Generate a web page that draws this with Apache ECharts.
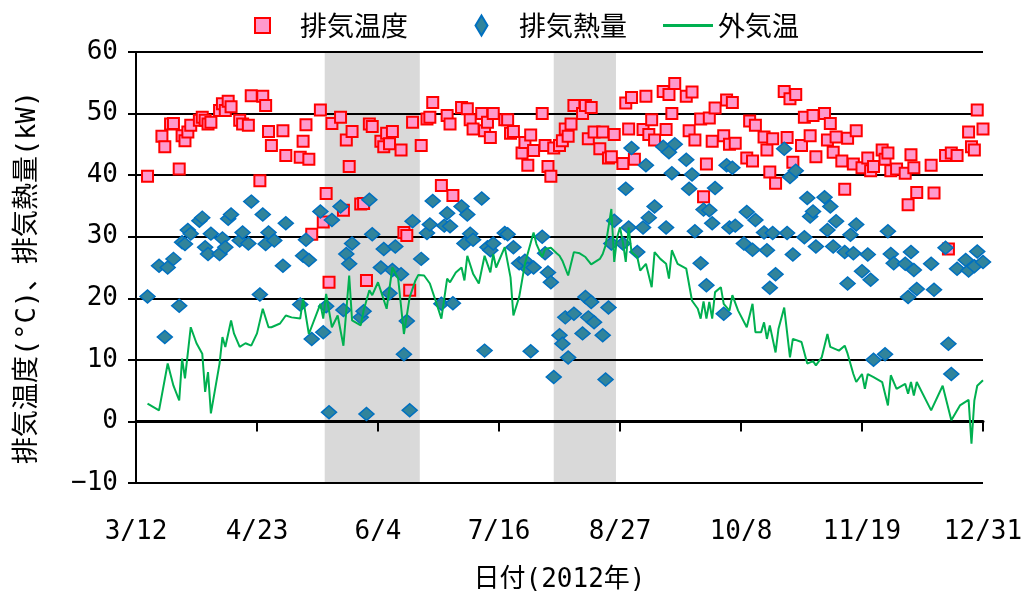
<!DOCTYPE html>
<html>
<head>
<meta charset="utf-8">
<script src="https://cdn.jsdelivr.net/npm/echarts/dist/echarts.min.js"></script>
<style>
  html, body { margin: 0; padding: 0; background: #fff; }
  #chart { width: 1021px; height: 591px; }
</style>
</head>
<body>
<div id="chart"></div>
<script>
// Days are counted from 2012-03-12 (day 0) to 2012-12-31 (day 294).
const START = { y: 2012, m: 2, d: 12 };

// Shaded periods [startDay, endDay]
const shadePeriods = [[65.5, 98.5], [145, 166.6]];

// 排気温度 (℃)
const exhaustTempDays = [4,9,10,12,13,15,16,17,18,19,22,23,24,25,26,29,30,31,32,33,36,37,39,40,43,44,45,46,47,51,52,57,58,59,60,61,64,65,66,67,68,71,72,73,74,75,78,79,80,81,82,85,86,87,88,89,92,93,94,95,96,99,101,102,103,106,108,109,110,113,115,116,117,120,121,122,123,124,128,129,130,131,134,135,136,137,138,141,142,143,144,145,147,148,149,150,151,152,155,156,157,158,159,161,162,164,165,166,169,170,171,172,173,176,177,178,179,180,183,184,185,186,187,191,192,193,194,196,197,198,199,200,201,204,205,206,207,208,212,213,214,215,218,219,220,221,222,225,226,227,228,229,231,232,234,235,236,239,240,241,242,243,245,246,247,249,250,252,254,255,256,259,260,261,262,264,267,268,269,270,271,276,277,281,282,283,285,289,290,291,292,294];
const exhaustTempValues = [39.8,46.3,44.6,48.3,48.4,41.0,46.4,45.6,47.0,48.1,48.9,49.4,48.9,48.3,48.6,50.5,51.6,50.5,52.0,51.1,48.9,48.3,48.1,52.9,39.1,52.8,51.3,47.1,44.8,47.2,43.2,42.9,45.5,48.2,42.6,30.4,50.6,32.4,37.0,22.6,48.4,49.4,34.3,45.7,41.4,47.1,35.3,35.4,22.9,48.3,47.9,45.5,44.6,46.8,45.1,47.1,44.1,30.7,30.2,21.3,48.6,44.8,49.1,49.4,51.8,38.3,49.7,48.3,36.7,51.0,50.8,49.0,47.5,50.0,47.2,48.6,46.1,50.0,49.0,49.0,46.8,47.1,43.6,45.3,41.6,46.5,44.0,50.0,44.8,41.4,39.8,44.4,44.8,45.6,47.5,46.3,48.3,51.3,50.0,51.3,45.9,51.0,47.0,44.3,47.0,42.8,43.0,46.6,41.9,51.7,47.5,52.6,42.6,47.4,52.8,46.6,49.0,45.7,53.6,47.4,53.1,50.0,54.9,52.8,47.2,53.5,45.7,49.1,36.5,41.8,49.3,45.5,50.9,46.4,52.2,45.0,51.8,45.2,42.8,48.8,42.3,48.1,46.2,44.1,40.5,45.9,38.7,53.6,46.1,52.4,42.1,53.1,44.8,49.4,46.4,49.7,43.0,50.0,45.7,48.4,43.7,46.2,42.3,37.7,46.0,41.8,47.2,41.2,42.8,40.7,41.4,44.1,42.6,43.6,40.7,41.0,40.3,35.2,43.3,41.2,37.2,41.6,37.1,43.2,28.0,43.6,43.2,47.0,44.6,44.1,50.6,47.5];

// 排気熱量 (kW)
const exhaustHeatDays = [4,8,10,11,13,15,16,17,18,19,22,23,24,25,26,29,30,31,32,33,36,37,39,40,43,44,45,46,48,51,52,57,58,59,60,61,64,65,66,67,68,71,72,73,74,75,78,79,80,81,82,85,86,88,89,90,92,93,94,95,96,99,101,102,103,106,107,108,109,110,113,114,115,116,117,120,121,122,123,124,128,129,131,133,135,136,137,138,141,142,143,144,145,147,148,149,150,152,155,156,157,158,159,162,163,164,165,166,169,170,171,172,174,176,177,178,180,183,184,185,186,187,191,192,193,194,196,197,198,199,200,201,204,205,206,207,208,211,212,214,215,218,219,220,221,222,225,226,227,228,229,232,233,234,235,236,239,240,241,242,243,246,247,248,249,250,252,254,255,256,260,261,262,263,267,268,269,270,271,276,277,281,282,283,285,288,289,291,292,294];
const exhaustHeatValues = [20.3,25.3,13.7,25.0,26.4,18.8,29.1,28.8,31.1,30.5,32.6,33.1,28.3,27.2,30.5,27.2,29.7,28.3,32.9,33.6,29.4,30.7,28.9,35.7,20.6,33.6,28.8,30.7,29.4,25.3,32.2,19.0,26.9,29.5,26.2,13.4,34.1,14.5,18.7,1.5,32.7,34.9,18.1,27.2,25.6,28.9,16.9,17.9,1.2,36.0,30.4,25.0,28.0,20.8,24.6,28.4,23.9,10.9,16.3,1.8,32.5,26.4,30.6,32.0,35.8,19.1,31.8,33.8,31.7,19.2,34.9,28.9,33.6,30.5,29.5,36.2,11.5,28.3,27.8,28.9,30.6,30.4,28.3,25.7,26.1,24.8,11.4,25.0,30.0,27.3,24.2,22.6,7.2,14.0,12.6,16.9,10.4,17.5,14.3,20.2,16.9,19.4,16.1,14.0,6.8,18.5,28.9,32.6,28.9,37.8,31.5,44.4,27.5,31.5,41.6,33.1,34.9,44.6,31.5,43.7,40.3,45.0,42.5,37.8,40.1,30.9,25.7,34.4,22.1,34.3,32.2,37.9,17.5,41.6,31.5,41.2,31.8,28.9,34.0,27.9,32.7,30.7,27.8,21.7,30.6,23.9,44.3,30.6,39.7,27.1,40.7,29.9,36.3,33.3,34.1,28.4,36.4,31.1,34.9,28.4,32.5,27.5,22.4,30.3,27.3,32.0,24.4,27.1,23.0,10.0,10.9,30.9,27.2,25.7,25.6,20.2,27.5,24.6,21.5,25.6,21.4,28.2,12.6,7.7,24.8,26.2,24.5,25.2,27.6,25.9];

// 外気温 (℃)
const outdoorTempDays = [4,8,11,13,15,16,17,19,21,23,24,25,26,29,30,31,33,34,36,38,40,42,44,46,47,50,52,54,57,58,60,64,65,66,68,70,72,74,75,78,79,81,82,84,87,89,91,93,95,97,98,100,102,104,106,108,109,111,113,114,115,117,119,121,123,124,125,128,130,131,133,135,138,139,141,142,144,146,147,148,150,152,154,156,158,161,162,163,165,166,167,168,169,170,171,172,174,175,177,179,180,182,184,185,186,188,191,193,195,196,197,198,199,200,201,203,204,206,207,209,212,214,215,217,218,219,220,222,223,225,227,228,231,233,235,236,238,240,241,244,246,247,249,250,252,253,254,256,259,261,262,264,267,268,269,270,271,276,280,283,286,289,290,291,292,294];
const outdoorTempValues = [2.9,1.8,9.4,5.8,3.4,10.2,7.0,15.3,12.7,11.0,4.8,8.0,1.3,9.4,13.7,12.1,16.4,14.3,12.1,12.7,12.3,14.3,18.3,15.3,15.3,15.9,17.2,16.9,16.7,19.9,14.2,19.1,16.7,20.7,15.3,17.2,12.3,23.7,16.4,15.6,18.0,21.3,20.5,22.6,18.3,25.0,23.2,14.2,20.2,22.9,23.8,23.7,22.4,19.6,16.7,23.2,22.6,24.2,25.0,22.9,26.9,24.0,22.4,26.9,24.2,27.2,25.0,28.3,23.4,17.2,20.2,25.6,30.7,28.8,26.7,28.0,28.2,27.3,26.9,26.1,23.7,27.5,27.3,26.7,25.5,26.4,27.2,28.6,34.5,25.9,29.9,31.5,29.1,25.9,31.5,27.5,26.7,24.5,25.6,21.8,27.5,26.4,25.6,23.2,27.8,25.6,24.8,19.6,18.3,16.7,19.5,16.7,19.4,16.7,21.0,21.8,19.1,18.0,20.5,18.0,15.3,19.1,14.5,14.5,16.1,13.4,15.6,11.2,15.0,18.5,10.4,13.4,12.9,9.4,9.8,9.1,10.4,14.2,12.1,11.5,12.3,11.0,7.7,6.4,7.7,5.3,7.7,7.2,6.4,2.6,7.5,5.3,6.1,4.5,6.4,4.2,6.4,1.8,5.8,0.2,2.6,3.5,-3.6,3.4,5.8,6.7];

const NUM_FONT = "'DejaVu Sans Mono', 'Noto Sans CJK JP', monospace";
const JP_FONT = "'Noto Sans CJK JP', sans-serif";

const pair = (xs, ys) => xs.map((x, i) => [x, ys[i]]);
const dayLabel = (v) => {
  const dt = new Date(START.y, START.m, START.d + v);
  return (dt.getMonth() + 1) + '/' + dt.getDate();
};

// Legend glyphs: the leading move-tos widen the icon box so the label sits
// clear of the marker.
const SQUARE_ICON = 'path://M0,0M52,0M12,0L27,0L27,15L12,15Z';
const DIAMOND_ICON = 'path://M0,0M52,0M19.5,0L25.5,10L19.5,20L13.5,10Z';

const chart = echarts.init(document.getElementById('chart'));

const legendText = { fontFamily: JP_FONT, fontSize: 27, color: '#000' };

chart.setOption({
  animation: false,
  backgroundColor: '#fff',
  grid: { left: 136, right: 38, top: 52, bottom: 108, containLabel: false, outerBoundsMode: 'none' },
  legend: [
    { data: [{ name: '排気温度', icon: SQUARE_ICON }], left: 242, top: 12, padding: 0,
      itemWidth: 52, itemHeight: 15, textStyle: legendText, selectedMode: false },
    { data: [{ name: '排気熱量', icon: DIAMOND_ICON }], left: 461, top: 12, padding: 0,
      itemWidth: 52, itemHeight: 20, textStyle: legendText, selectedMode: false },
    { data: [{ name: '外気温', icon: 'rect' }], left: 663, top: 12, padding: 0,
      itemWidth: 50, itemHeight: 3, textStyle: legendText, selectedMode: false }
  ],
  xAxis: {
    type: 'value',
    min: 0,
    max: 294,
    interval: 42,
    name: '日付(2012年)',
    nameLocation: 'middle',
    nameGap: 84,
    nameTextStyle: { fontFamily: NUM_FONT, fontSize: 26, color: '#000' },
    axisLine: { lineStyle: { color: '#000', width: 3 } },
    axisTick: { length: 10, lineStyle: { color: '#000', width: 2 } },
    axisLabel: {
      margin: 36,
      fontFamily: NUM_FONT,
      fontSize: 26,
      color: '#000',
      formatter: dayLabel
    },
    splitLine: { show: false }
  },
  yAxis: {
    type: 'value',
    min: -10,
    max: 60,
    interval: 10,
    name: '排気温度(°C)、排気熱量(kW)',
    nameLocation: 'middle',
    nameRotate: 90,
    nameGap: 95,
    nameTextStyle: { fontFamily: NUM_FONT, fontSize: 27, color: '#000', padding: [0, 20, 0, 0] },
    axisLine: { show: true, lineStyle: { color: '#000', width: 2 } },
    axisTick: { show: true, length: 8, lineStyle: { color: '#000', width: 2 } },
    axisLabel: {
      margin: 18,
      fontFamily: NUM_FONT,
      fontSize: 26,
      color: '#000',
      formatter: (v) => (v < 0 ? '\u2212' + (-v) : String(v))
    },
    splitLine: { lineStyle: { color: '#000', width: 2 } }
  },
  series: [
    {
      type: 'custom',
      z: -1,
      silent: true,
      dimensions: ['start', 'end'],
      encode: { x: [0, 1] },
      data: shadePeriods,
      renderItem: (params, api) => {
        const cs = params.coordSys;
        const x0 = api.coord([api.value(0), 0])[0];
        const x1 = api.coord([api.value(1), 0])[0];
        return {
          type: 'rect',
          shape: { x: x0, y: cs.y, width: x1 - x0, height: cs.height },
          style: { fill: '#D9D9D9' }
        };
      }
    },
    {
      name: '排気温度',
      type: 'scatter',
      symbol: 'rect',
      symbolSize: 11,
      itemStyle: { color: '#FF99CC', borderColor: '#FF0000', borderWidth: 2, opacity: 1 },
      data: pair(exhaustTempDays, exhaustTempValues)
    },
    {
      name: '排気熱量',
      type: 'scatter',
      symbol: 'diamond',
      symbolSize: [15, 13],
      itemStyle: { color: '#31849B', borderColor: '#0070C0', borderWidth: 1.5, opacity: 1 },
      data: pair(exhaustHeatDays, exhaustHeatValues)
    },
    {
      name: '外気温',
      type: 'line',
      symbol: 'none',
      showSymbol: false,
      lineStyle: { color: '#00B050', width: 2 },
      itemStyle: { color: '#00B050' },
      data: pair(outdoorTempDays, outdoorTempValues)
    }
  ]
});
</script>
</body>
</html>
